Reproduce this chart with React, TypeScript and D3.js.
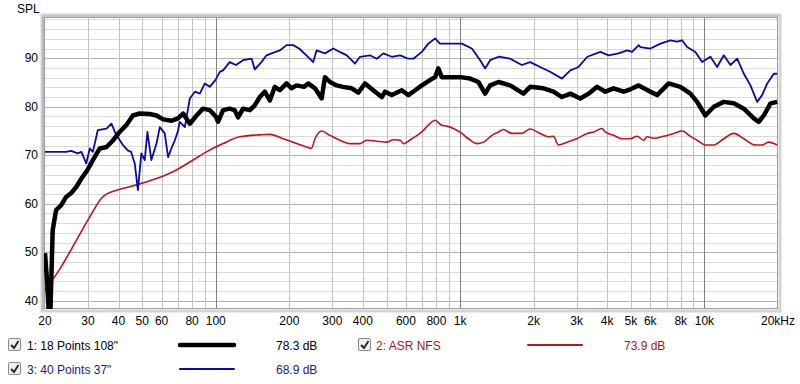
import React from "react";
import * as d3 from "d3";

// ---- data (frequency Hz, SPL dB) ----
const blackFreq = [20, 20.4, 20.8, 21.0, 21.5, 22.2, 23.3, 24.4, 25.6, 26.9, 28.2, 29.8, 31.4, 33.5, 35.7, 37.9, 40.4, 43, 45.8, 48.8, 53.6, 57.2, 60.9, 65.8, 70, 73.5, 78.3, 83.4, 88.7, 94.5, 100, 102.2, 107.1, 114, 119.5, 123.4, 129.3, 137.8, 144.4, 151.4, 158.7, 166.4, 174.4, 182.8, 194.8, 204.2, 214, 229.8, 238.9, 254.7, 271.2, 279.8, 293.3, 312.5, 331.5, 360, 383, 408, 441, 478, 493, 525, 577, 614, 655, 697, 753, 790, 814, 841, 910, 1000, 1099, 1188, 1266, 1327, 1436, 1603, 1816, 1935, 2194, 2410, 2610, 2825, 3103, 3356, 3636, 3929, 4247, 4673, 4976, 5380, 6011, 6400, 7140, 7970, 8760, 9330, 10090, 10920, 11995, 13190, 14490, 15920, 16690, 17500, 18640, 19860];
const blackSpl = [49.8, 44, 36, 36, 54.5, 58.7, 59.7, 61.4, 62.2, 63.5, 65.2, 66.9, 69, 71.4, 71.7, 73, 74.8, 76.2, 78.2, 78.6, 78.5, 78.2, 77.4, 77.1, 77.6, 78.6, 76.5, 78.2, 79.6, 79.3, 78, 76.9, 79.3, 79.6, 79.3, 77.8, 79.6, 79.3, 80.3, 82, 83.1, 81.3, 84.1, 83.4, 84.8, 83.8, 84.4, 84.1, 84.8, 83.8, 81.7, 86.1, 85.1, 84.4, 84.1, 83.8, 82.9, 84.8, 83.4, 82, 83.1, 82.4, 83.4, 82.4, 83.4, 84.4, 85.5, 86.1, 87.9, 86.1, 86.1, 86.1, 85.8, 85.1, 82.7, 84.4, 85.1, 84.4, 82.7, 84.1, 83.8, 83.1, 82, 82.7, 81.7, 82.7, 84.1, 83.1, 83.8, 83.1, 83.6, 84.4, 83.1, 82.4, 84.8, 84.1, 82.7, 81, 78.2, 80, 81, 80.7, 79.6, 77.6, 76.9, 78.2, 80.7, 81];

const redFreq = [20, 23.3, 26.9, 30.5, 34.4, 39.2, 44.4, 50.4, 57.2, 66.8, 78.3, 91.6, 107.1, 125.4, 151.4, 166.4, 188.7, 214, 234.9, 246, 254.7, 271.2, 293.3, 321.8, 354, 389.4, 414.5, 456, 501, 533, 568, 586, 634, 697, 741, 790, 841, 882, 939, 1016, 1081, 1171, 1246, 1349, 1436, 1505, 1629, 1789, 1935, 2125, 2300, 2410, 2528, 2741, 3000, 3317, 3525, 3808, 3929, 4247, 4600, 4976, 5298, 5640, 5830, 6200, 6800, 7483, 8099, 8760, 9330, 10090, 10920, 11995, 13190, 14490, 16180, 17220, 18300, 19860];
const redSpl = [42.2, 47, 52.5, 57.3, 61.4, 62.8, 63.5, 64.3, 65.2, 66.6, 68.6, 70.7, 72.4, 73.8, 74.2, 74.3, 73.4, 72.4, 71.7, 71.4, 73.4, 75, 74.1, 73.1, 72.4, 72.4, 73.1, 72.9, 72.7, 73.2, 73.1, 72.4, 73.4, 74.8, 76.2, 77.2, 76.2, 76, 75.5, 74.5, 73.4, 72.4, 72.7, 74.1, 74.8, 75.3, 74.5, 74.5, 75.4, 74.5, 73.8, 73.9, 72.1, 72.7, 73.4, 74.5, 74.8, 75.5, 74.8, 74.1, 73.4, 73.4, 73.9, 73.1, 73.8, 73.5, 73.9, 74.5, 75, 73.9, 73.1, 72.1, 72.1, 73.4, 74.5, 73.4, 72.1, 72.1, 72.7, 72.1];

const blueFreq = [20, 24.4, 25.6, 27.2, 28.2, 29.5, 30.5, 31.4, 32.9, 35.7, 37.4, 39.2, 41.7, 43.6, 45, 46.6, 48, 49.6, 51.2, 52.5, 54.5, 57.2, 59, 61.8, 63.8, 65.8, 67.9, 70, 71.2, 74.7, 78.3, 82.1, 86, 90.2, 94.5, 99.6, 103.9, 107.1, 114, 121, 129.3, 140.2, 144.4, 153.8, 161.3, 169, 182.8, 194.8, 207.3, 219.2, 234.9, 250.4, 258.6, 279.8, 302.6, 321.8, 343.8, 371.4, 389.4, 427.6, 455.9, 485, 525, 568, 614, 643.8, 697, 741, 790, 827, 910, 1016, 1117, 1208, 1266, 1327, 1436, 1459, 1603, 1789, 1935, 2125, 2336, 2610, 2825, 3054, 3317, 3750, 4053, 4451, 4824, 5057, 5380, 5470, 6011, 6606, 7252, 7724, 8099, 8490, 9180, 9785, 10580, 11270, 11995, 12780, 13620, 14490, 15430, 16430, 17220, 18070, 19220, 19860];
const blueSpl = [70.7, 70.7, 70.9, 70.4, 70.7, 68.3, 71.4, 70.7, 75.2, 75.5, 76.5, 74.1, 72.1, 71, 70.7, 68.3, 62.8, 70.4, 69, 74.8, 69, 72.4, 75.8, 74.5, 69.6, 71.4, 73, 75, 76.9, 75.8, 81.7, 83.1, 82.7, 84.8, 84.1, 85.5, 87.2, 87.5, 89.2, 88.6, 89.6, 89.9, 87.7, 89.2, 90.6, 91, 91.6, 92.7, 92.7, 92, 90.6, 89.2, 91.6, 91, 92, 91.3, 90.6, 88.9, 90.3, 90.6, 89.9, 91, 90.3, 90.6, 89.9, 89.9, 91.3, 93, 94.1, 93, 93, 93, 92, 89.6, 87.9, 89.6, 90.3, 90.3, 89.9, 88.6, 89.2, 88.2, 87.2, 85.8, 87.5, 88.2, 90.3, 91.3, 90.6, 91, 91.6, 91.3, 92.7, 92.3, 92, 93, 93.7, 93.4, 93.7, 92.3, 91.3, 89.2, 90.3, 88.2, 90.6, 88.6, 89.9, 86.8, 84.4, 81, 82.4, 84.8, 86.8, 86.8];

const xTickValues = [20, 30, 40, 50, 60, 80, 100, 200, 300, 400, 600, 800, 1000, 2000, 3000, 4000, 5000, 6000, 8000, 10000, 20000];
const xTickLabels = ["20", "30", "40", "50", "60", "80", "100", "200", "300", "400", "600", "800", "1k", "2k", "3k", "4k", "5k", "6k", "8k", "10k", "20kHz"];
const yTickValues = [40, 50, 60, 70, 80, 90];

const seriesNames = ["1: 18 Points 108\"", "2: ASR NFS", "3: 40 Points 37\""];
const seriesLevels = ["78.3 dB", "73.9 dB", "68.9 dB"];

const W = 800, H = 384;
const PL = 44, PR = 778, PT = 17, PB = 309;

export default function App() {
  const x = d3.scaleLog().domain([20, 20000]).range([PL + 1, PR]);
  const y = d3.scaleLinear().domain([38.3, 98.5]).range([PB, PT]);

  const mk = (fs: number[], vs: number[], curve: d3.CurveFactory) =>
    d3.line<number>().x((_, i) => x(fs[i])).y((v) => y(v)).curve(curve)(vs) || "";

  const vGrid: number[] = [];
  [10, 100, 1000, 10000].forEach((dec) => {
    for (let k = 1; k <= 9; k++) {
      const f = dec * k;
      if (f > 20 && f < 20000) vGrid.push(f);
    }
  });
  const hGrid = d3.range(40, 99, 2);

  const font = "'Liberation Sans', Arial, sans-serif";
  const colBlack = "#000000";
  const colRed = "#c0141c";
  const colBlue = "#0a0aa8";

  const legend = [
    { name: seriesNames[0], level: seriesLevels[0], col: colBlack, text: "#000", w: 4.5, bx: 8, tx: 27, lx1: 180, lx2: 234, vx: 276, yy: 345 },
    { name: seriesNames[1], level: seriesLevels[1], col: colRed, text: "#a8141c", w: 2, bx: 358, tx: 376, lx1: 528, lx2: 582, vx: 624, yy: 345 },
    { name: seriesNames[2], level: seriesLevels[2], col: colBlue, text: "#1a1a90", w: 2, bx: 8, tx: 27, lx1: 180, lx2: 234, vx: 276, yy: 369 },
  ];

  return (
    <svg width={W} height={H} style={{ position: "fixed", left: 0, top: 0, background: "#fff" }} fontFamily={font}>
      <defs>
        <clipPath id="plotclip">
          <rect x={PL} y={PT} width={PR - PL} height={PB - PT} />
        </clipPath>
      </defs>
      <rect x={0} y={0} width={W} height={H} fill="#fff" />
      {/* frame shadow */}
      <rect x={PL - 2} y={PT - 2} width={PR - PL + 4} height={PB - PT + 4} fill="none" stroke="#d4d4d4" strokeWidth={3} />
      <rect x={PL} y={PT} width={PR - PL} height={PB - PT} fill="#fff" />
      {/* horizontal grid */}
      {hGrid.map((v) => (
        <line key={"h" + v} x1={PL} x2={PR} y1={Math.round(y(v)) + 0.5} y2={Math.round(y(v)) + 0.5}
          stroke={v % 10 === 0 ? "#b4b4b4" : "#dadada"} strokeWidth={1} />
      ))}
      {/* vertical grid */}
      {vGrid.map((f) => {
        const isDec = f === 100 || f === 1000 || f === 10000;
        const xx = Math.round(x(f)) + 0.5;
        return <line key={"v" + f} x1={xx} x2={xx} y1={PT} y2={PB} stroke={isDec ? "#808080" : "#c4c4c4"} strokeWidth={1} />;
      })}
      <rect x={PL + 0.5} y={PT + 0.5} width={PR - PL - 1} height={PB - PT - 1} fill="none" stroke="#a0a0a0" strokeWidth={1} />
      <line x1={PL - 1} x2={PL - 1} y1={PT - 1} y2={PB + 1} stroke="#b8b8b8" strokeWidth={2} />
      <line x1={PL - 1} x2={PR + 1} y1={PT - 1} y2={PT - 1} stroke="#c8c8c8" strokeWidth={2} />
      {/* curves */}
      <g clipPath="url(#plotclip)">
        <path d={mk(redFreq, redSpl, d3.curveMonotoneX)} fill="none" stroke={colRed} strokeWidth={1.6} strokeLinejoin="round" />
        <path d={mk(blueFreq, blueSpl, d3.curveLinear)} fill="none" stroke={colBlue} strokeWidth={1.8} strokeLinejoin="round" />
        <path d={mk(blackFreq, blackSpl, d3.curveLinear)} fill="none" stroke={colBlack} strokeWidth={4.5} strokeLinejoin="round" />
      </g>
      {/* axes labels */}
      <text x={17} y={13} fontSize={12} fill="#000">SPL</text>
      {yTickValues.map((v) => (
        <text key={"y" + v} x={38} y={y(v) + 4} fontSize={12} textAnchor="end" fill="#000">{v}</text>
      ))}
      {xTickValues.map((f, i) => (
        <text key={"x" + f} x={x(f)} y={325} fontSize={12} textAnchor="middle" fill="#000">{xTickLabels[i]}</text>
      ))}
      {/* legend */}
      {legend.map((l, i) => (
        <g key={"l" + i}>
          <rect x={l.bx + 0.5} y={l.yy - 6.5} width={12} height={12} rx={1.5} fill="#efefef" stroke="#8a8a8a" strokeWidth={1} />
          <path d={`M${l.bx + 3},${l.yy} L${l.bx + 6},${l.yy + 3} L${l.bx + 10.5},${l.yy - 4}`} fill="none" stroke="#222" strokeWidth={1.8} />
          <text x={l.tx} y={l.yy + 4.5} fontSize={12} fill={l.text}>{l.name}</text>
          <line x1={l.lx1} x2={l.lx2} y1={l.yy} y2={l.yy} stroke={l.col} strokeWidth={l.w} strokeLinecap="round" />
          <text x={l.vx} y={l.yy + 4.5} fontSize={12} fill={l.text}>{l.level}</text>
        </g>
      ))}
    </svg>
  );
}
